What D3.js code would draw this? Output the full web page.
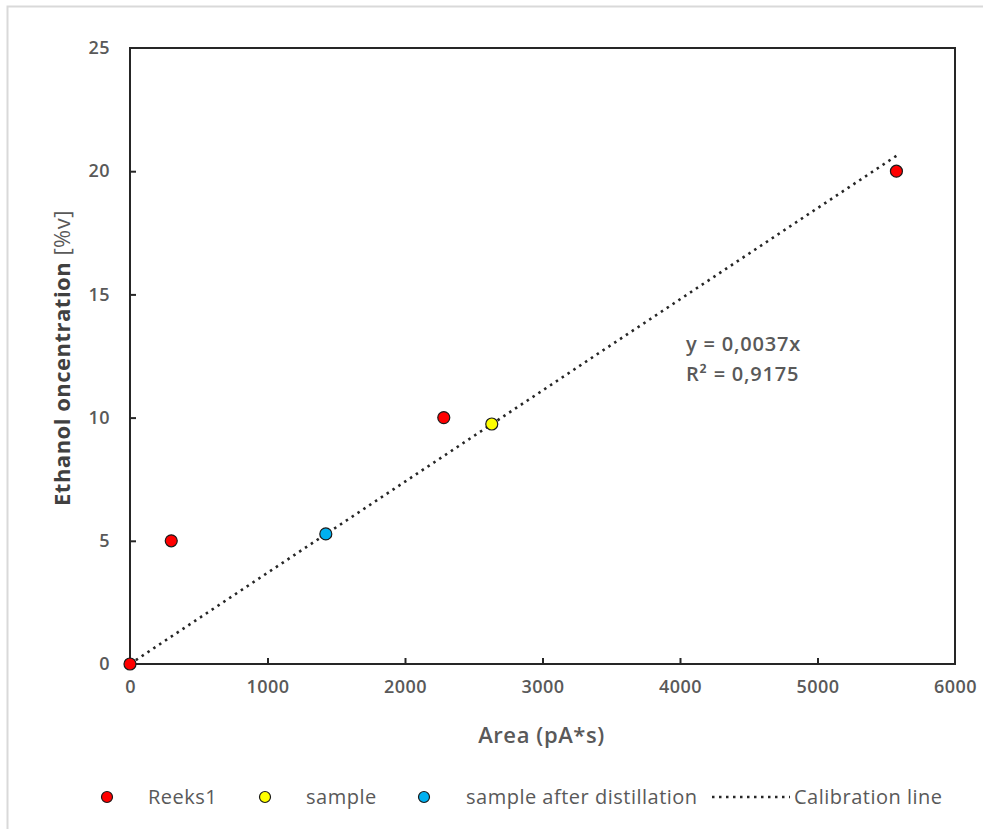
<!DOCTYPE html>
<html>
<head>
<meta charset="utf-8">
<script src="https://cdn.jsdelivr.net/npm/d3@7"></script>
<style>
  html, body { margin: 0; padding: 0; background: #fff; }
  svg { display: block; }
  text { font-family: "Open Sans", "Lato", sans-serif; }
</style>
</head>
<body>
<script>
// ---- data ----
const reeksX = [0, 300, 2282, 5574];
const reeksY = [0, 5, 10, 20];
const sampleX = [2631];
const sampleY = [9.74];
const distX = [1424];
const distY = [5.28];
const slope = 0.0037;
const trendRange = [0, 5574];
const xTicks = [0, 1000, 2000, 3000, 4000, 5000, 6000];
const yTicks = [0, 5, 10, 15, 20, 25];
const seriesNames = ["Reeks1", "sample", "sample after distillation", "Calibration line"];
const equationLines = ["y = 0,0037x", "R² = 0,9175"];

const W = 983, H = 829;
const svg = d3.select("body").append("svg").attr("width", W).attr("height", H);

// outer chart border
svg.append("rect").attr("x", 7.5).attr("y", 6.5).attr("width", W).attr("height", H)
  .attr("fill", "#fff").attr("stroke", "#d9d9d9").attr("stroke-width", 2);

const L = 130, R = 955, T = 48, B = 664;
const x = d3.scaleLinear().domain([0, 6000]).range([L, R]);
const y = d3.scaleLinear().domain([0, 25]).range([B, T]);

const tickColor = "#595959";

// axes with inner ticks
const gx = svg.append("g").attr("transform", `translate(0,${B})`)
  .call(d3.axisBottom(x).tickValues(xTicks).tickSizeInner(-6).tickSizeOuter(0).tickPadding(16).tickFormat(d3.format("d")));
const gy = svg.append("g").attr("transform", `translate(${L},0)`)
  .call(d3.axisLeft(y).tickValues(yTicks).tickSizeInner(-6).tickSizeOuter(0).tickPadding(20).tickFormat(d3.format("d")));
[gx, gy].forEach(g => {
  g.select(".domain").remove();
  g.selectAll(".tick line").attr("stroke", "#262626").attr("stroke-width", 2);
  g.selectAll(".tick text").attr("fill", tickColor).attr("font-size", 18).attr("font-weight", 600).attr("letter-spacing", 0.4);
});
gx.selectAll(".tick line").filter(d => d === 0 || d === 6000).remove();
gy.selectAll(".tick line").filter(d => d === 0 || d === 25).remove();

// plot frame
svg.append("rect").attr("x", L).attr("y", T).attr("width", R - L).attr("height", B - T)
  .attr("fill", "none").attr("stroke", "#262626").attr("stroke-width", 2);

// trendline
svg.append("line")
  .attr("x1", x(trendRange[0])).attr("y1", y(slope * trendRange[0]))
  .attr("x2", x(trendRange[1])).attr("y2", y(slope * trendRange[1]))
  .attr("stroke", "#262626").attr("stroke-width", 2.6).attr("stroke-dasharray", "2.5,4.5");

function drawPoints(xs, ys, color) {
  svg.append("g").selectAll("circle").data(xs.map((v, i) => [v, ys[i]])).join("circle")
    .attr("cx", d => x(d[0])).attr("cy", d => y(d[1])).attr("r", 6)
    .attr("fill", color).attr("stroke", "#1a1a1a").attr("stroke-width", 1.2);
}
drawPoints(reeksX, reeksY, "#ff0000");
drawPoints(sampleX, sampleY, "#ffff00");
drawPoints(distX, distY, "#00b0f0");

// equation
const eq = svg.append("text").attr("x", 686).attr("y", 351).attr("fill", tickColor)
  .attr("font-size", 20).attr("font-weight", 600).attr("letter-spacing", 0.8);
equationLines.forEach((t, i) => eq.append("tspan").attr("x", 686).attr("dy", i === 0 ? 0 : 30).text(t));

// axis titles
svg.append("text").attr("x", (L + R) / 2 - 1).attr("y", 743).attr("text-anchor", "middle")
  .attr("fill", tickColor).attr("font-size", 22).attr("font-weight", 600).attr("letter-spacing", 0.6).text("Area (pA*s)");
const yt = svg.append("text").attr("transform", `translate(70,${(T + B) / 2 + 2}) rotate(-90)`)
  .attr("text-anchor", "middle").attr("font-size", 22).attr("fill", "#404040").attr("letter-spacing", 0.5);
yt.append("tspan").attr("font-weight", "bold").text("Ethanol oncentration ");
yt.append("tspan").attr("font-weight", "normal").attr("fill", tickColor).text("[%v]");

// legend
const legY = 797;
const legItems = [
  {type: "dot", color: "#ff0000", cx: 107, tx: 148},
  {type: "dot", color: "#ffff00", cx: 265, tx: 306},
  {type: "dot", color: "#00b0f0", cx: 424, tx: 466},
  {type: "line", x1: 712, x2: 790, tx: 794}
];
legItems.forEach((it, i) => {
  if (it.type === "dot") {
    svg.append("circle").attr("cx", it.cx).attr("cy", legY).attr("r", 5.5)
      .attr("fill", it.color).attr("stroke", "#1a1a1a").attr("stroke-width", 1.2);
  } else {
    svg.append("line").attr("x1", it.x1).attr("x2", it.x2).attr("y1", legY).attr("y2", legY)
      .attr("stroke", "#262626").attr("stroke-width", 2.6).attr("stroke-dasharray", "2.5,4.5");
  }
  svg.append("text").attr("x", it.tx).attr("y", legY + 7).attr("fill", tickColor)
    .attr("font-size", 20).attr("letter-spacing", 0.5).text(seriesNames[i]);
});
</script>
</body>
</html>
